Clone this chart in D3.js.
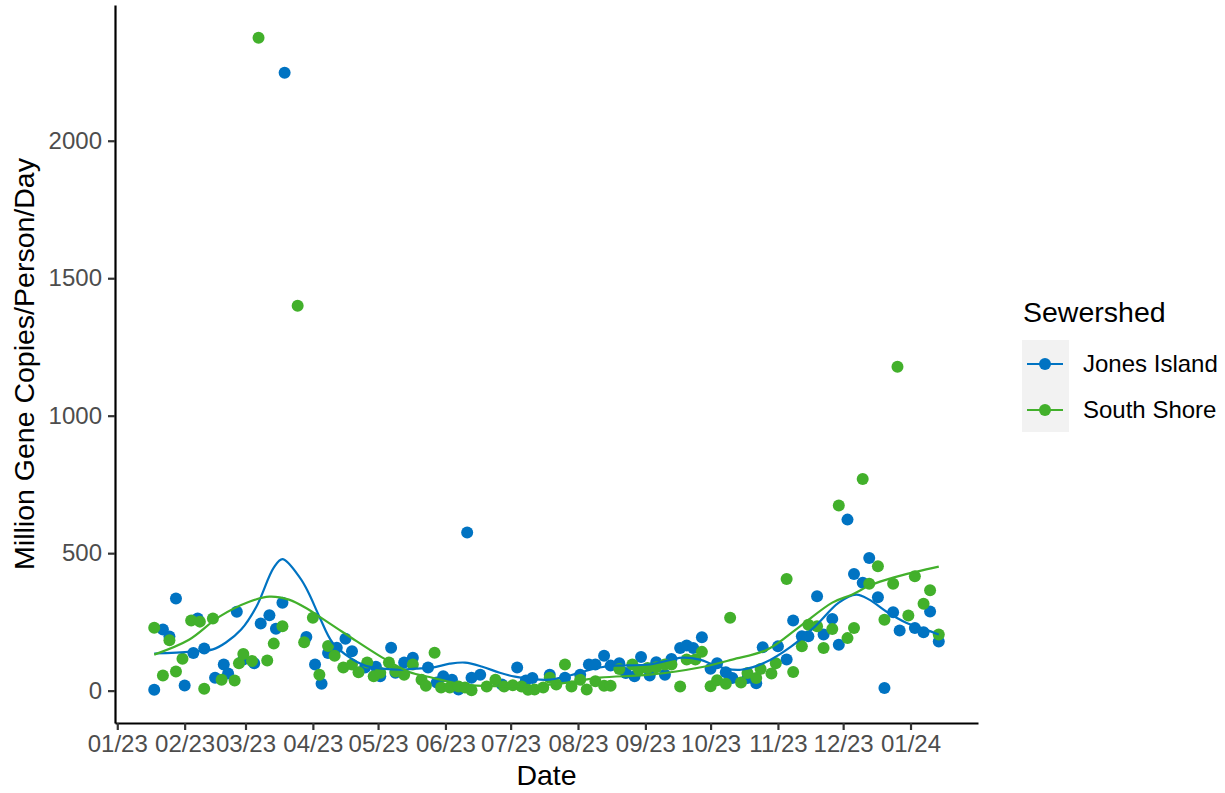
<!DOCTYPE html>
<html>
<head>
<meta charset="utf-8">
<script src="https://cdn.jsdelivr.net/npm/d3@7"></script>
<style>
  body { margin: 0; background: #fff; }
  text { font-family: "Liberation Sans", Arial, sans-serif; }
</style>
</head>
<body>
<svg width="1225" height="793"></svg>
<script>
// series names and colours
const sewersheds = ["Jones Island", "South Shore"];
const colors = ["#0073C2", "#42B02B"];

// tick values
const yTicks = [0, 500, 1000, 1500, 2000];
const xTicks = ["2023-01-01", "2023-02-01", "2023-03-01", "2023-04-01", "2023-05-01", "2023-06-01",
  "2023-07-01", "2023-08-01", "2023-09-01", "2023-10-01", "2023-11-01", "2023-12-01", "2024-01-01"];

// Jones Island samples
const jonesDates = ["2023-01-18", "2023-01-22", "2023-01-25", "2023-01-28", "2023-02-01", "2023-02-05",
  "2023-02-07", "2023-02-10", "2023-02-15", "2023-02-19", "2023-02-21", "2023-02-25", "2023-02-28",
  "2023-03-05", "2023-03-08", "2023-03-12", "2023-03-15", "2023-03-18", "2023-03-19", "2023-03-29",
  "2023-04-02", "2023-04-05", "2023-04-08", "2023-04-12", "2023-04-16", "2023-04-19", "2023-04-25",
  "2023-04-30", "2023-05-02", "2023-05-07", "2023-05-09", "2023-05-13", "2023-05-17", "2023-05-24",
  "2023-05-28", "2023-05-31", "2023-06-04", "2023-06-07", "2023-06-11", "2023-06-13", "2023-06-17",
  "2023-06-27", "2023-07-04", "2023-07-08", "2023-07-11", "2023-07-19", "2023-07-26", "2023-08-02",
  "2023-08-06", "2023-08-09", "2023-08-13", "2023-08-16", "2023-08-20", "2023-08-23", "2023-08-27",
  "2023-08-30", "2023-09-03", "2023-09-06", "2023-09-10", "2023-09-13", "2023-09-17", "2023-09-20",
  "2023-09-23", "2023-09-27", "2023-10-01", "2023-10-04", "2023-10-08", "2023-10-11", "2023-10-18",
  "2023-10-22", "2023-10-25", "2023-11-01", "2023-11-05", "2023-11-08", "2023-11-12", "2023-11-15",
  "2023-11-19", "2023-11-22", "2023-11-26", "2023-11-29", "2023-12-03", "2023-12-06", "2023-12-10",
  "2023-12-13", "2023-12-17", "2023-12-20", "2023-12-24", "2023-12-27", "2024-01-03", "2024-01-07",
  "2024-01-10", "2024-01-14"];
const jonesValues = [3, 222, 197, 335, 19, 137,
  262, 153, 47, 95, 62, 287, 113,
  100, 244, 274, 225, 320, 2247, 195,
  95, 25, 137, 156, 189, 143, 84,
  87, 52, 156, 65, 102, 120, 84,
  30, 52, 40, 4, 575, 47, 58,
  22, 84, 37, 46, 58, 47, 58,
  95, 95, 127, 91, 100, 64, 52,
  122, 55, 103, 58, 115, 155, 164,
  155, 194, 80, 100, 67, 46, 46,
  27, 158, 161, 113, 255, 198, 198,
  343, 204, 261, 167, 622, 424, 392,
  482, 340, 10, 285, 219, 228, 212,
  288, 179];

// South Shore samples
const southDates = ["2023-01-18", "2023-01-22", "2023-01-25", "2023-01-28", "2023-01-31", "2023-02-04",
  "2023-02-08", "2023-02-10", "2023-02-14", "2023-02-18", "2023-02-24", "2023-02-26", "2023-02-28",
  "2023-03-04", "2023-03-07", "2023-03-11", "2023-03-14", "2023-03-18", "2023-03-25", "2023-03-28",
  "2023-04-01", "2023-04-04", "2023-04-08", "2023-04-11", "2023-04-15", "2023-04-19", "2023-04-22",
  "2023-04-26", "2023-04-29", "2023-05-02", "2023-05-06", "2023-05-09", "2023-05-13", "2023-05-17",
  "2023-05-21", "2023-05-23", "2023-05-27", "2023-05-30", "2023-06-03", "2023-06-07", "2023-06-10",
  "2023-06-13", "2023-06-20", "2023-06-24", "2023-06-28", "2023-07-02", "2023-07-06", "2023-07-09",
  "2023-07-12", "2023-07-16", "2023-07-19", "2023-07-22", "2023-07-26", "2023-07-29", "2023-08-02",
  "2023-08-05", "2023-08-09", "2023-08-13", "2023-08-16", "2023-08-20", "2023-08-26", "2023-08-29",
  "2023-09-02", "2023-09-06", "2023-09-10", "2023-09-13", "2023-09-17", "2023-09-20", "2023-09-24",
  "2023-09-27", "2023-10-01", "2023-10-04", "2023-10-08", "2023-10-10", "2023-10-15", "2023-10-18",
  "2023-10-22", "2023-10-24", "2023-10-29", "2023-10-31", "2023-11-05", "2023-11-08", "2023-11-12",
  "2023-11-15", "2023-11-19", "2023-11-22", "2023-11-26", "2023-11-29", "2023-12-03", "2023-12-06",
  "2023-12-10", "2023-12-13", "2023-12-17", "2023-12-20", "2023-12-24", "2023-12-26", "2023-12-31",
  "2024-01-03", "2024-01-07", "2024-01-10", "2024-01-14"];
const southValues = [229, 55, 183, 70, 116, 255,
  251, 7, 262, 40, 37, 100, 133,
  108, 2375, 110, 171, 234, 1400, 176,
  265, 58, 162, 127, 84, 95, 67,
  102, 52, 65, 102, 70, 58, 95,
  40, 18, 138, 11, 11, 15, 11,
  1, 15, 40, 15, 20, 15, 3,
  4, 11, 47, 22, 95, 15, 40,
  4, 34, 18, 18, 79, 95, 76,
  82, 85, 95, 95, 15, 113, 113,
  141, 16, 38, 25, 265, 30, 64,
  46, 79, 62, 100, 406, 68, 161,
  240, 234, 155, 224, 673, 191, 228,
  770, 389, 452, 258, 389, 1178, 273,
  416, 316, 365, 204];

// smoothed trend
const jonesSmoothDates = ["2023-01-18", "2023-02-04", "2023-02-14", "2023-02-20", "2023-02-27", "2023-03-06",
  "2023-03-14", "2023-03-18", "2023-03-26", "2023-03-30", "2023-04-04", "2023-04-10", "2023-04-18",
  "2023-04-25", "2023-05-03", "2023-05-11", "2023-05-18", "2023-05-26", "2023-06-03", "2023-06-10",
  "2023-06-18", "2023-06-26", "2023-07-03", "2023-07-11", "2023-07-19", "2023-07-26", "2023-08-11",
  "2023-08-18", "2023-09-03", "2023-09-18", "2023-09-26", "2023-10-02", "2023-10-08", "2023-10-15",
  "2023-10-26", "2023-11-07", "2023-11-18", "2023-11-29", "2023-12-07", "2023-12-13", "2023-12-21",
  "2023-12-30", "2024-01-08", "2024-01-14"];
const jonesSmoothValues = [135, 142, 150, 175, 222, 305,
  447, 478, 411, 356, 269, 175, 120,
  91, 80, 76, 80, 84, 98, 102,
  87, 65, 51, 42, 40, 51, 84,
  91, 95, 120, 113, 95, 80, 76,
  102, 160, 233, 320, 349, 331, 287,
  247, 222, 204];
const southSmoothDates = ["2023-01-18", "2023-02-03", "2023-02-17", "2023-03-03", "2023-03-12", "2023-03-21",
  "2023-03-30", "2023-04-04", "2023-04-13", "2023-04-18", "2023-05-03", "2023-05-15", "2023-05-26",
  "2023-06-10", "2023-06-26", "2023-07-09", "2023-07-27", "2023-08-11", "2023-09-03", "2023-09-26",
  "2023-10-11", "2023-10-27", "2023-11-11", "2023-11-26", "2023-12-05", "2023-12-14", "2023-12-24",
  "2024-01-04", "2024-01-14"];
const southSmoothValues = [131, 185, 269, 324, 342, 331,
  295, 269, 222, 196, 120, 69, 47,
  22, 16, 15, 29, 47, 58, 84,
  113, 149, 233, 320, 349, 385, 411,
  433, 451];

const parse = d3.timeParse("%Y-%m-%d");
const svg = d3.select("svg");
const font = "'Liberation Sans', Arial, sans-serif";

const panel = { left: 115, right: 978, top: 5, bottom: 723 };

function pairs(dates, values) {
  return dates.map((d, i) => ({ date: parse(d), value: values[i] }));
}

const series = [
  { name: sewersheds[0], color: colors[0], points: pairs(jonesDates, jonesValues), smooth: pairs(jonesSmoothDates, jonesSmoothValues) },
  { name: sewersheds[1], color: colors[1], points: pairs(southDates, southValues), smooth: pairs(southSmoothDates, southSmoothValues) }
];

// ggplot-style 5% expansion
const allPts = series.flatMap(s => s.points);
const xExt = d3.extent(allPts, d => d.date);
const xPad = (xExt[1] - xExt[0]) * 0.05;
const yExt = d3.extent(allPts, d => d.value);
const yPad = (yExt[1] - yExt[0]) * 0.05;

const x = d3.scaleTime()
  .domain([new Date(+xExt[0] - xPad), new Date(+xExt[1] + xPad)])
  .range([panel.left, panel.right]);
const y = d3.scaleLinear()
  .domain([yExt[0] - yPad, yExt[1] + yPad])
  .range([panel.bottom, panel.top]);

// points
series.forEach(s => {
  svg.append("g")
    .selectAll("circle")
    .data(s.points)
    .join("circle")
    .attr("cx", d => x(d.date))
    .attr("cy", d => y(d.value))
    .attr("r", 6)
    .attr("fill", s.color);
});

// smooth lines
const line = d3.line()
  .x(d => x(d.date))
  .y(d => y(d.value))
  .curve(d3.curveCatmullRom.alpha(0.5));
series.forEach(s => {
  svg.append("path")
    .attr("d", line(s.smooth))
    .attr("fill", "none")
    .attr("stroke", s.color)
    .attr("stroke-width", 2.2);
});

// axes
const xAxis = svg.append("g")
  .attr("transform", `translate(0,${panel.bottom})`)
  .call(d3.axisBottom(x)
    .tickValues(xTicks.map(parse))
    .tickFormat(d3.timeFormat("%m/%y"))
    .tickSize(7).tickSizeOuter(0).tickPadding(5));
const yAxis = svg.append("g")
  .attr("transform", `translate(${panel.left},0)`)
  .call(d3.axisLeft(y)
    .tickValues(yTicks)
    .tickFormat(d3.format("d"))
    .tickSize(7).tickSizeOuter(0).tickPadding(6));

[xAxis, yAxis].forEach(g => {
  g.select(".domain").attr("stroke", "#000").attr("stroke-width", 2.2);
  g.selectAll(".tick line").attr("stroke", "#333").attr("stroke-width", 2.2);
  g.selectAll(".tick text")
    .attr("fill", "#4D4D4D")
    .style("font-size", "24px")
    .style("font-family", font);
});

// axis titles
svg.append("text")
  .attr("x", (panel.left + panel.right) / 2)
  .attr("y", 785)
  .attr("text-anchor", "middle")
  .style("font-size", "28.5px")
  .text("Date");
svg.append("text")
  .attr("transform", `translate(34,${(panel.top + panel.bottom) / 2}) rotate(-90)`)
  .attr("text-anchor", "middle")
  .style("font-size", "28.5px")
  .text("Million Gene Copies/Person/Day");

// legend
const legend = svg.append("g").attr("transform", "translate(1022,0)");
legend.append("text")
  .attr("x", 1)
  .attr("y", 322)
  .style("font-size", "28.5px")
  .text("Sewershed");
legend.append("rect")
  .attr("x", 0).attr("y", 340)
  .attr("width", 47).attr("height", 92)
  .attr("fill", "#F2F2F2");
series.forEach((s, i) => {
  const cy = 364 + i * 46;
  legend.append("line")
    .attr("x1", 5).attr("x2", 41)
    .attr("y1", cy).attr("y2", cy)
    .attr("stroke", s.color).attr("stroke-width", 2.2);
  legend.append("circle")
    .attr("cx", 23).attr("cy", cy).attr("r", 6)
    .attr("fill", s.color);
  legend.append("text")
    .attr("x", 61)
    .attr("y", cy + 8)
    .style("font-size", "24px")
    .text(s.name);
});
</script>
</body>
</html>
